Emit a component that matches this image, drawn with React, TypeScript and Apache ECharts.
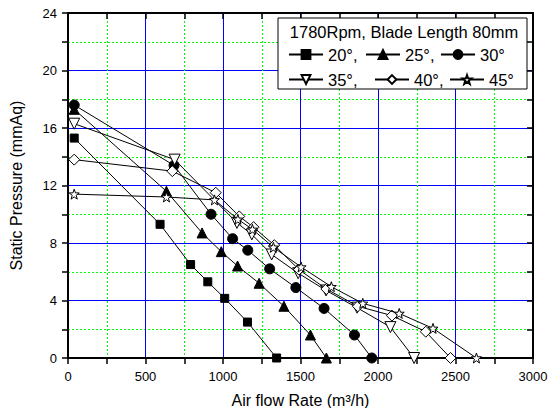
import React, { useEffect, useRef } from "react";
import * as echarts from "echarts";

const angleNames = ["20°", "25°", "30°", "35°", "40°", "45°"];

const flow20 = [40, 594, 791, 902, 1011, 1158, 1346];
const pres20 = [15.3, 9.3, 6.5, 5.3, 4.15, 2.5, 0];
const flow25 = [40, 635, 865, 989, 1094, 1233, 1393, 1564, 1667];
const pres25 = [17.3, 11.6, 8.7, 7.4, 6.4, 5.2, 3.6, 1.6, 0];
const flow30 = [40, 684, 923, 1062, 1160, 1301, 1470, 1652, 1848, 1960];
const pres30 = [17.6, 13.4, 10.0, 8.3, 7.5, 6.2, 4.9, 3.45, 1.6, 0];
const flow35 = [40, 688, 1090, 1186, 1314, 1485, 1665, 1865, 2080, 2233];
const pres35 = [16.3, 13.8, 9.4, 8.6, 7.2, 5.9, 4.7, 3.5, 2.15, 0];
const flow40 = [40, 673, 953, 1105, 1197, 1331, 1490, 1667, 1870, 2090, 2308, 2468];
const pres40 = [13.8, 13.0, 11.5, 9.85, 9.1, 7.85, 6.15, 4.8, 3.6, 2.95, 1.83, 0];
const flow45 = [40, 635, 945, 1096, 1190, 1325, 1504, 1699, 1902, 2137, 2355, 2635];
const pres45 = [11.4, 11.2, 11.0, 9.65, 8.95, 7.7, 6.33, 4.96, 3.8, 3.1, 2.06, 0];

const flows = [flow20, flow25, flow30, flow35, flow40, flow45];
const pressures = [pres20, pres25, pres30, pres35, pres40, pres45];

const legendTitle = "1780Rpm, Blade Length 80mm";
const xTitle = "Air flow Rate (m³/h)";
const yTitle = "Static Pressure (mmAq)";

const STAR =
  "path://M10 0L12.35 6.76L19.51 6.91L13.8 11.24L15.88 18.09L10 14L4.12 18.09L6.2 11.24L0.49 6.91L7.65 6.76Z";

const symbols = [
  { symbol: "rect", size: 8, fill: "#000", rotate: 0 },
  { symbol: "triangle", size: 10, fill: "#000", rotate: 0 },
  { symbol: "circle", size: 10, fill: "#000", rotate: 0 },
  { symbol: "triangle", size: 11, fill: "#fff", rotate: 180 },
  { symbol: "diamond", size: 11, fill: "#fff", rotate: 0 },
  { symbol: STAR, size: 10, fill: "#fff", rotate: 0 },
];

const FONT = "'Liberation Sans', Arial, sans-serif";

const legendPos = [
  { left: 288, row: 55, comma: true },
  { left: 365, row: 55, comma: true },
  { left: 440, row: 55, comma: false },
  { left: 288, row: 80, comma: true },
  { left: 374, row: 80, comma: true },
  { left: 449, row: 80, comma: false },
];

export default function App() {
  const ref = useRef<HTMLDivElement>(null);
  useEffect(() => {
    if (!ref.current) return;
    const chart = echarts.init(ref.current, null, { renderer: "svg" });

    const series = angleNames.map((name, i) => ({
      name,
      type: "line",
      xAxisIndex: 0,
      yAxisIndex: 0,
      data: flows[i].map((f, j) => [f, pressures[i][j]]),
      symbol: symbols[i].symbol,
      symbolSize: symbols[i].size,
      symbolRotate: symbols[i].rotate,
      showAllSymbol: true,
      lineStyle: { color: "#000", width: 1 },
      itemStyle: { color: symbols[i].fill, borderColor: "#000", borderWidth: 1 },
      z: 30 + i,
    }));

    const legends = legendPos.map((p, i) => ({
      show: true,
      data: [angleNames[i]],
      left: p.left,
      top: p.row - 9,
      padding: 0,
      itemWidth: 34,
      itemHeight: 11,
      selectedMode: false,
      formatter: (n: string) => (p.comma ? n + "," : n),
      textStyle: { fontSize: 16.5, color: "#000", fontFamily: FONT },
      z: 40,
    }));

    const axisCommon = {
      axisLine: { show: true, onZero: false, lineStyle: { color: "#000", width: 2 } },
    };
    const plain = (v: number) => String(v);

    chart.setOption({
      animation: false,
      backgroundColor: "#fff",
      grid: { left: 65, right: 27, top: 13, bottom: 58 },
      legend: legends,
      graphic: [
        {
          type: "rect",
          shape: { x: 278, y: 18, width: 249, height: 71 },
          style: { fill: "#fff", stroke: "#000", lineWidth: 1 },
          z: 20,
        },
        {
          type: "text",
          x: 404,
          y: 32,
          style: {
            text: legendTitle,
            fontSize: 16.5,
            fontFamily: FONT,
            fill: "#000",
            align: "center",
            verticalAlign: "middle",
          },
          z: 21,
        },
      ],
      xAxis: [
        {
          type: "value",
          min: 0,
          max: 3000,
          interval: 500,
          position: "bottom",
          name: xTitle,
          nameLocation: "middle",
          nameGap: 34,
          nameTextStyle: { fontSize: 16, color: "#000", fontFamily: FONT },
          ...axisCommon,
          axisTick: { show: true, inside: false, length: 6, lineStyle: { color: "#000", width: 1.5 } },
          minorTick: { show: true, splitNumber: 2, length: 6, lineStyle: { color: "#000", width: 1.5 } },
          axisLabel: { fontSize: 13, color: "#000", margin: 12, fontFamily: FONT, formatter: plain },
          splitLine: { show: true, lineStyle: { color: "#0000ff", width: 1 } },
          minorSplitLine: { show: true, lineStyle: { color: "#00ff00", width: 1, type: [2, 2] } },
        },
        {
          type: "value",
          min: 0,
          max: 3000,
          interval: 500,
          position: "top",
          ...axisCommon,
          axisTick: { show: true, inside: true, length: 6, lineStyle: { color: "#000", width: 1.5 } },
          minorTick: { show: true, splitNumber: 2, length: 6, lineStyle: { color: "#000", width: 1.5 } },
          axisLabel: { show: false },
          splitLine: { show: false },
        },
      ],
      yAxis: [
        {
          type: "value",
          min: 0,
          max: 24,
          interval: 4,
          position: "left",
          name: yTitle,
          nameLocation: "middle",
          nameGap: 44,
          nameTextStyle: { fontSize: 16, color: "#000", fontFamily: FONT },
          ...axisCommon,
          axisTick: { show: true, inside: false, length: 6, lineStyle: { color: "#000", width: 1.5 } },
          minorTick: { show: true, splitNumber: 2, length: 6, lineStyle: { color: "#000", width: 1.5 } },
          axisLabel: { fontSize: 13, color: "#000", margin: 11, fontFamily: FONT, formatter: plain },
          splitLine: { show: true, lineStyle: { color: "#0000ff", width: 1 } },
          minorSplitLine: { show: true, lineStyle: { color: "#00ff00", width: 1, type: [2, 2] } },
        },
        {
          type: "value",
          min: 0,
          max: 24,
          interval: 4,
          position: "right",
          ...axisCommon,
          axisTick: { show: true, inside: true, length: 6, lineStyle: { color: "#000", width: 1.5 } },
          minorTick: { show: true, splitNumber: 2, length: 6, lineStyle: { color: "#000", width: 1.5 } },
          axisLabel: { show: false },
          splitLine: { show: false },
        },
      ],
      series,
    });
    return () => chart.dispose();
  }, []);

  return <div ref={ref} style={{ width: 560, height: 416, margin: -8 }} />;
}
